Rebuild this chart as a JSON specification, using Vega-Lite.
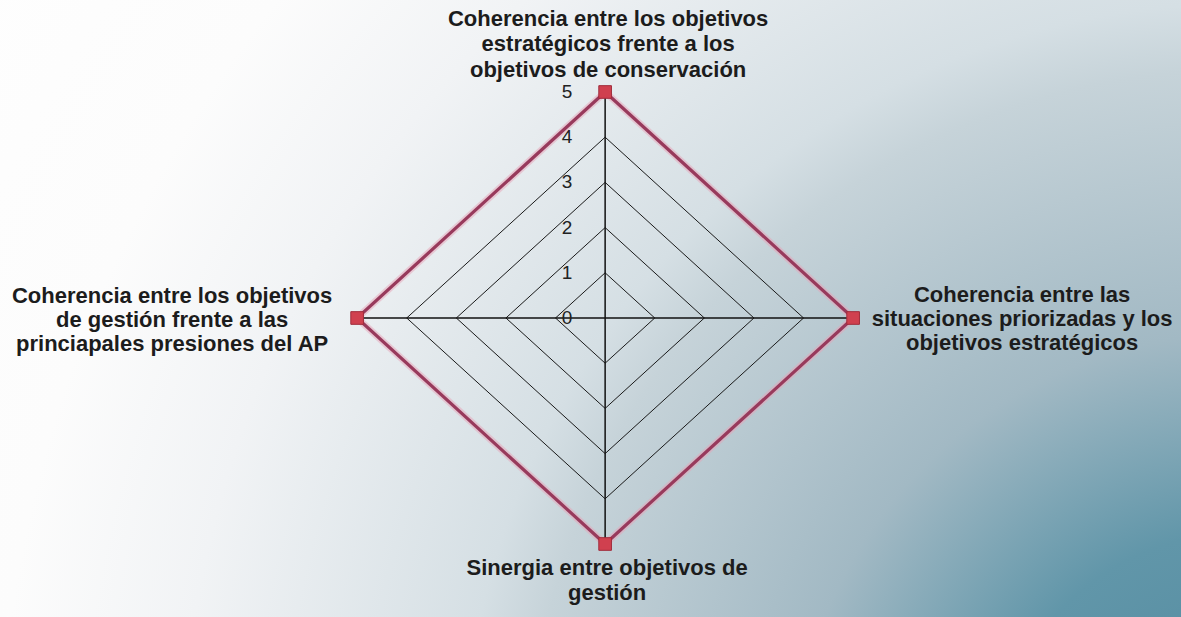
{
  "$schema": "https://vega.github.io/schema/vega-lite/v6.json",
  "width": 1181,
  "height": 617,
  "autosize": {"type": "fit", "contains": "padding"},
  "padding": 0,
  "background": "#ffffff",
  "config": {
    "view": {
      "stroke": null,
      "fill": {
        "gradient": "radial",
        "x1": 1.05, "y1": 0.9, "r1": 0,
        "x2": 1.05, "y2": 0.9, "r2": 1.4,
        "stops": [
          {"offset": 0, "color": "#4f889d"},
          {"offset": 0.15, "color": "#6196a9"},
          {"offset": 0.27, "color": "#a2b9c4"},
          {"offset": 0.43, "color": "#c6d3d9"},
          {"offset": 0.47, "color": "#d5dfe4"},
          {"offset": 0.64, "color": "#f1f3f5"},
          {"offset": 0.75, "color": "#fcfcfc"},
          {"offset": 1, "color": "#ffffff"}
        ]
      }
    }
  },
  "datasets": {
    "grid": [
      {"level": 1, "idx": 0, "x": 0, "y": 1}, {"level": 1, "idx": 1, "x": 1, "y": 0}, {"level": 1, "idx": 2, "x": 0, "y": -1}, {"level": 1, "idx": 3, "x": -1, "y": 0}, {"level": 1, "idx": 4, "x": 0, "y": 1},
      {"level": 2, "idx": 0, "x": 0, "y": 2}, {"level": 2, "idx": 1, "x": 2, "y": 0}, {"level": 2, "idx": 2, "x": 0, "y": -2}, {"level": 2, "idx": 3, "x": -2, "y": 0}, {"level": 2, "idx": 4, "x": 0, "y": 2},
      {"level": 3, "idx": 0, "x": 0, "y": 3}, {"level": 3, "idx": 1, "x": 3, "y": 0}, {"level": 3, "idx": 2, "x": 0, "y": -3}, {"level": 3, "idx": 3, "x": -3, "y": 0}, {"level": 3, "idx": 4, "x": 0, "y": 3},
      {"level": 4, "idx": 0, "x": 0, "y": 4}, {"level": 4, "idx": 1, "x": 4, "y": 0}, {"level": 4, "idx": 2, "x": 0, "y": -4}, {"level": 4, "idx": 3, "x": -4, "y": 0}, {"level": 4, "idx": 4, "x": 0, "y": 4},
      {"level": 5, "idx": 0, "x": 0, "y": 5}, {"level": 5, "idx": 1, "x": 5, "y": 0}, {"level": 5, "idx": 2, "x": 0, "y": -5}, {"level": 5, "idx": 3, "x": -5, "y": 0}, {"level": 5, "idx": 4, "x": 0, "y": 5}
    ],
    "spokes": [
      {"x": 0, "y": -5, "x2": 0, "y2": 5},
      {"x": -5, "y": 0, "x2": 5, "y2": 0}
    ],
    "ticks": [
      {"x": 0, "y": 0, "t": "0"}, {"x": 0, "y": 1, "t": "1"}, {"x": 0, "y": 2, "t": "2"},
      {"x": 0, "y": 3, "t": "3"}, {"x": 0, "y": 4, "t": "4"}, {"x": 0, "y": 5, "t": "5"}
    ],
    "series": [
      {"idx": 0, "axis": "top", "value": 5, "x": 0, "y": 5, "label": "Coherencia entre los objetivos\nestratégicos frente a los\nobjetivos de conservación"},
      {"idx": 1, "axis": "right", "value": 5, "x": 5, "y": 0, "label": "Coherencia entre las\nsituaciones priorizadas y los\nobjetivos estratégicos"},
      {"idx": 2, "axis": "bottom", "value": 5, "x": 0, "y": -5, "label": "Sinergia entre objetivos  de\ngestión"},
      {"idx": 3, "axis": "left", "value": 5, "x": -5, "y": 0, "label": "Coherencia entre los objetivos\nde gestión frente  a las\nprinciapales presiones  del AP"},
      {"idx": 4, "axis": "close", "value": 5, "x": 0, "y": 5, "label": ""}
    ]
  },
  "encoding": {
    "x": {"field": "x", "type": "quantitative", "scale": {"domain": [-12.2, 11.61], "nice": false, "zero": false}, "axis": null},
    "y": {"field": "y", "type": "quantitative", "scale": {"domain": [-6.615, 7.035], "nice": false, "zero": false}, "axis": null}
  },
  "layer": [
    {
      "data": {"name": "grid"},
      "mark": {"type": "line", "stroke": "#1a1a1a", "strokeWidth": 1},
      "encoding": {
        "detail": {"field": "level", "type": "nominal"},
        "order": {"field": "idx", "type": "quantitative"}
      }
    },
    {
      "data": {"name": "spokes"},
      "mark": {"type": "rule", "stroke": "#111111", "strokeWidth": 1.5},
      "encoding": {
        "x2": {"field": "x2"},
        "y2": {"field": "y2"}
      }
    },
    {
      "data": {"name": "ticks"},
      "mark": {"type": "text", "font": "Liberation Sans", "fontSize": 19, "color": "#222222", "align": "center", "baseline": "middle", "dx": -38},
      "encoding": {"text": {"field": "t", "type": "nominal"}}
    },
    {
      "data": {"name": "series"},
      "mark": {"type": "line", "stroke": "#e8a3b8", "strokeWidth": 7, "opacity": 0.5},
      "encoding": {"order": {"field": "idx", "type": "quantitative"}}
    },
    {
      "data": {"name": "series"},
      "mark": {"type": "line", "stroke": "#983a5c", "strokeWidth": 3.2},
      "encoding": {"order": {"field": "idx", "type": "quantitative"}}
    },
    {
      "data": {"name": "series"},
      "transform": [{"filter": "datum.axis != 'close'"}],
      "mark": {"type": "point", "shape": "square", "size": 160, "filled": true, "fill": "#d0404f", "stroke": "#a02c3c", "strokeWidth": 1, "opacity": 1}
    },
    {
      "data": {"name": "series"},
      "transform": [{"filter": "datum.axis == 'top'"}],
      "mark": {"type": "text", "font": "Liberation Sans", "fontWeight": "bold", "fontSize": 22, "color": "#1c1c1c", "align": "center", "baseline": "middle", "lineBreak": "\n", "lineHeight": 25.5, "dx": 3, "dy": -73},
      "encoding": {"text": {"field": "label", "type": "nominal"}}
    },
    {
      "data": {"name": "series"},
      "transform": [{"filter": "datum.axis == 'right'"}],
      "mark": {"type": "text", "font": "Liberation Sans", "fontWeight": "bold", "fontSize": 22, "color": "#1c1c1c", "align": "center", "baseline": "middle", "lineBreak": "\n", "lineHeight": 24, "dx": 169, "dy": -23},
      "encoding": {"text": {"field": "label", "type": "nominal"}}
    },
    {
      "data": {"name": "series"},
      "transform": [{"filter": "datum.axis == 'left'"}],
      "mark": {"type": "text", "font": "Liberation Sans", "fontWeight": "bold", "fontSize": 22, "color": "#1c1c1c", "align": "center", "baseline": "middle", "lineBreak": "\n", "lineHeight": 24, "dx": -185, "dy": -22},
      "encoding": {"text": {"field": "label", "type": "nominal"}}
    },
    {
      "data": {"name": "series"},
      "transform": [{"filter": "datum.axis == 'bottom'"}],
      "mark": {"type": "text", "font": "Liberation Sans", "fontWeight": "bold", "fontSize": 22, "color": "#1c1c1c", "align": "center", "baseline": "middle", "lineBreak": "\n", "lineHeight": 25, "dx": 2, "dy": 24},
      "encoding": {"text": {"field": "label", "type": "nominal"}}
    }
  ]
}
